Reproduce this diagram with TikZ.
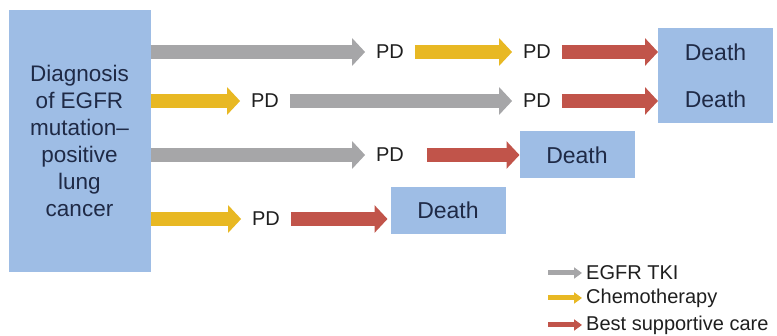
\documentclass[tikz,border=0pt]{standalone}
\usepackage{fontspec}
\setmainfont{Liberation Sans}
\usepackage{tikz}
\usetikzlibrary{arrows.meta}
\definecolor{boxblue}{RGB}{158,189,229}
\definecolor{navytext}{RGB}{31,42,70}
\definecolor{tkigray}{RGB}{166,166,168}
\definecolor{chemoyellow}{RGB}{232,184,35}
\definecolor{bscred}{RGB}{193,84,74}
\tikzset{
    diagbox/.style = {
        align=center,
        fill=boxblue,
        text=navytext,
        font=\fontsize{22.5}{27}\selectfont,
        minimum width=142pt,
        minimum height=262pt,
        inner sep=0pt,
        outer sep=0pt
    },
    deathbox/.style = {
        diagbox,
        font=\fontsize{23}{47}\selectfont,
        minimum width=115pt,
        minimum height=47pt
    },
    pdnode/.style = {
        text=black!88,
        font=\fontsize{20}{22}\selectfont,
        inner xsep=11pt,
        inner ysep=0pt,
        outer sep=0pt
    },
    flowarrow/.style = {
        line width=14pt,
        -{Triangle[length=13pt,width=27pt]}
    },
    tkiarrow/.style = {flowarrow, draw=tkigray, fill=tkigray},
    chemoarrow/.style = {flowarrow, draw=chemoyellow, fill=chemoyellow},
    bscarrow/.style = {flowarrow, draw=bscred, fill=bscred},
    legnode/.style = {
        anchor=west,
        text=black!88,
        font=\fontsize{20}{22}\selectfont,
        inner xsep=4pt,
        inner ysep=0pt
    },
    legarrow/.style = {
        line width=5pt,
        -{Triangle[length=8pt,width=11pt]}
    }
}

\begin{document}
\begin{tikzpicture}[x=1pt,y=-1pt]
    \useasboundingbox (0,0) rectangle (777,336);

    % boxes
    \node [diagbox] (diag) at (79.5,141) {Diagnosis\\of EGFR\\mutation--\\positive\\lung\\cancer};
    \node [deathbox, minimum height=95pt] (death12) at (715.5,75.5) {Death\\Death};
    \node [deathbox] (death3) at (577,155) {Death};
    \node [deathbox] (death4) at (448,210.5) {Death};

    % progression nodes
    \node [pdnode] (pd1a) at (390,52) {PD};
    \node [pdnode] (pd1b) at (537,52) {PD};
    \node [pdnode] (pd2a) at (265,101) {PD};
    \node [pdnode] (pd2b) at (537,101) {PD};
    \node [pdnode] (pd3) at (390,155) {PD};
    \node [pdnode] (pd4) at (266,219) {PD};

    % row 1
    \draw [tkiarrow] (diag.east |- pd1a) -- (pd1a.west);
    \draw [chemoarrow] (pd1a.east) -- (pd1b.west);
    \draw [bscarrow] (pd1b.east) -- (pd1b -| death12.west);
    % row 2
    \draw [chemoarrow] (diag.east |- pd2a) -- (pd2a.west);
    \draw [tkiarrow] (pd2a.east) -- (pd2b.west);
    \draw [bscarrow] (pd2b.east) -- (pd2b -| death12.west);
    % row 3
    \draw [tkiarrow] (diag.east |- pd3) -- (pd3.west);
    \draw [bscarrow, shorten <=12pt] (pd3.east) -- (pd3 -| death3.west);
    % row 4
    \draw [chemoarrow] (diag.east |- pd4) -- (pd4.west);
    \draw [bscarrow] (pd4.east) -- ([xshift=-3pt]pd4 -| death4.west);

    % legend
    \node [legnode] (legtki) at (582,273) {EGFR TKI};
    \node [legnode] (legchemo) at (582,298) {Chemotherapy};
    \node [legnode] (legbsc) at (582,325) {Best supportive care};
    \draw [legarrow, draw=tkigray, fill=tkigray] ([xshift=-34pt]legtki.west) -- (legtki.west);
    \draw [legarrow, draw=chemoyellow, fill=chemoyellow] ([xshift=-34pt]legchemo.west) -- (legchemo.west);
    \draw [legarrow, draw=bscred, fill=bscred] ([xshift=-34pt]legbsc.west) -- (legbsc.west);
\end{tikzpicture}
\end{document}
